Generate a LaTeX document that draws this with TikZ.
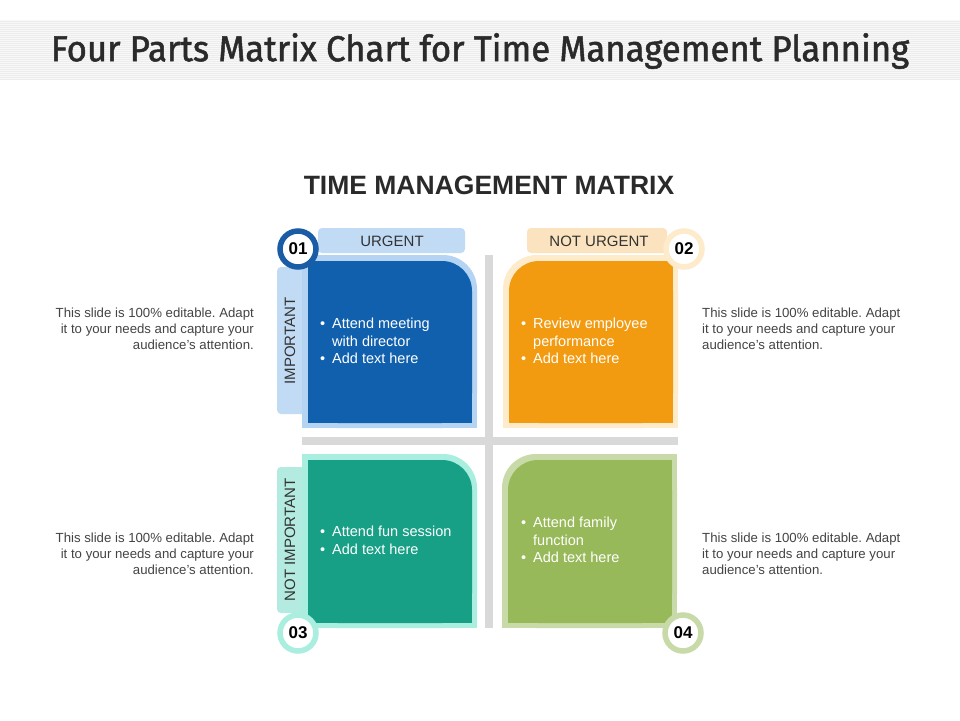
\documentclass[tikz,border=0pt]{standalone}
\usepackage{fontspec}
\setmainfont{Liberation Sans}
\newfontfamily\titlefont[FakeBold=1.4]{Fira Sans}
\definecolor{bandgray}{HTML}{F7F7F7}
\definecolor{bandline}{HTML}{EDEDED}
\definecolor{titlec}{HTML}{2A2A2A}
\definecolor{barg}{HTML}{D9D9D9}
\definecolor{blueD}{HTML}{1160AE}
\definecolor{blueL}{HTML}{B5D4F4}
\definecolor{blueT}{HTML}{C2DBF5}
\definecolor{blueR}{HTML}{1A5DA6}
\definecolor{orD}{HTML}{F29B11}
\definecolor{orL}{HTML}{FDEBCB}
\definecolor{orT}{HTML}{FBE3C0}
\definecolor{tealD}{HTML}{17A086}
\definecolor{tealL}{HTML}{A9EEDF}
\definecolor{tealT}{HTML}{B3EBE0}
\definecolor{grD}{HTML}{98B959}
\definecolor{grL}{HTML}{C8DAA8}
\definecolor{sidec}{HTML}{444444}
\definecolor{tabc}{HTML}{333333}
\tikzset{
  sidetext/.style={font=\frenchspacing\fontsize{13.2}{16}\selectfont, text=sidec, inner sep=0pt},
  boxtext/.style={font=\fontsize{14.5}{17.5}\selectfont, text=white, align=left, anchor=north west, inner sep=0pt},
  tabtext/.style={font=\fontsize{15}{16}\selectfont, text=tabc, inner sep=0pt},
  numcircle/.style={circle, fill=white, line width=5.5pt, minimum size=36pt, inner sep=0pt, font=\bfseries\fontsize{17}{17}\selectfont, text=black},
  tabbox/.style={rounded corners=4pt},
}
\newcommand{\bul}{\makebox[12pt][l]{\textbullet}}
\newcommand{\ind}{\hspace*{12pt}}
\begin{document}
\begin{tikzpicture}[x=1pt,y=-1pt]
\useasboundingbox (0,0) rectangle (960,720);
\fill[white] (0,0) rectangle (960,720);
% title band
\fill[bandgray] (0,20) rectangle (960,80);
\foreach \yy in {21,23,...,79} {\fill[bandline] (0,\yy) rectangle (960,\yy+1);}
\node[font=\titlefont\fontsize{36}{40}\selectfont, text=titlec, xscale=0.965] (title) at (480,51) {Four Parts Matrix Chart for Time Management Planning};
\node[font=\bfseries\fontsize{26.5}{28}\selectfont, text=titlec] (subtitle) at (489,185) {TIME MANAGEMENT MATRIX};
% cross bars
\fill[barg] (485,255) rectangle (493,628);
\fill[barg] (302,437) rectangle (678,445);
% tabs
\fill[blueT,tabbox] (318,228) rectangle (465,253);
\node[tabtext] (urgent) at (392,241) {URGENT};
\fill[orT,tabbox] (527,228) rectangle (667,253);
\node[tabtext] (noturgent) at (599,241) {NOT URGENT};
\fill[blueT,tabbox] (277,267) rectangle (306,414);
\node[tabtext, rotate=90] (important) at (290,341) {IMPORTANT};
\fill[tealT,tabbox] (277,467) rectangle (306,613);
\node[tabtext, rotate=90] (notimportant) at (290,540) {NOT IMPORTANT};
% Q1 blue (rounded top-right)
\fill[blueL, rounded corners=34pt] (302,255) rectangle (477,428);
\fill[blueL] (302,255) rectangle (440,428);
\fill[blueL] (302,300) rectangle (477,428);
\fill[blueD, rounded corners=30pt] (308,261) rectangle (472,423);
\fill[blueD] (308,261) rectangle (440,423);
\fill[blueD] (308,300) rectangle (472,423);
% Q2 orange (rounded top-left)
\fill[orL, rounded corners=34pt] (503,255) rectangle (678,428);
\fill[orL] (540,255) rectangle (678,428);
\fill[orL] (503,300) rectangle (678,428);
\fill[orD, rounded corners=30pt] (509,261) rectangle (673,423);
\fill[orD] (540,261) rectangle (673,423);
\fill[orD] (509,300) rectangle (673,423);
% Q3 teal (rounded top-right)
\fill[tealL, rounded corners=34pt] (302,454) rectangle (477,628);
\fill[tealL] (302,454) rectangle (440,628);
\fill[tealL] (302,500) rectangle (477,628);
\fill[tealD, rounded corners=30pt] (308,460) rectangle (472,623);
\fill[tealD] (308,460) rectangle (440,623);
\fill[tealD] (308,500) rectangle (472,623);
% Q4 green (rounded top-left)
\fill[grL, rounded corners=34pt] (502,454) rectangle (677,628);
\fill[grL] (540,454) rectangle (677,628);
\fill[grL] (502,500) rectangle (677,628);
\fill[grD, rounded corners=30pt] (508,460) rectangle (672,623);
\fill[grD] (540,460) rectangle (672,623);
\fill[grD] (508,500) rectangle (672,623);
% box texts
\node[boxtext] (t1) at (320,318) {\bul Attend meeting\\\ind with director\\\bul Add text here};
\node[boxtext] (t2) at (521,318) {\bul Review employee\\\ind performance\\\bul Add text here};
\node[boxtext] (t3) at (320,526) {\bul Attend fun session\\\bul Add text here};
\node[boxtext] (t4) at (521,517) {\bul Attend family\\\ind function\\\bul Add text here};
% number circles
\node[numcircle, draw=blueR] (c1) at (298,249) {01};
\node[numcircle, draw=orL] (c2) at (684,249) {02};
\node[numcircle, draw=tealL] (c3) at (298,633) {03};
\node[numcircle, draw=grL] (c4) at (683,633) {04};
% side texts
\node[sidetext, align=right, anchor=east] (s1) at (254,329) {This slide is 100\% editable. Adapt\\it to your needs and capture your\\audience's attention.};
\node[sidetext, align=left, anchor=west] (s2) at (702,329) {This slide is 100\% editable. Adapt\\it to your needs and capture your\\audience's attention.};
\node[sidetext, align=right, anchor=east] (s3) at (254,554) {This slide is 100\% editable. Adapt\\it to your needs and capture your\\audience's attention.};
\node[sidetext, align=left, anchor=west] (s4) at (702,554) {This slide is 100\% editable. Adapt\\it to your needs and capture your\\audience's attention.};
\end{tikzpicture}
\end{document}
